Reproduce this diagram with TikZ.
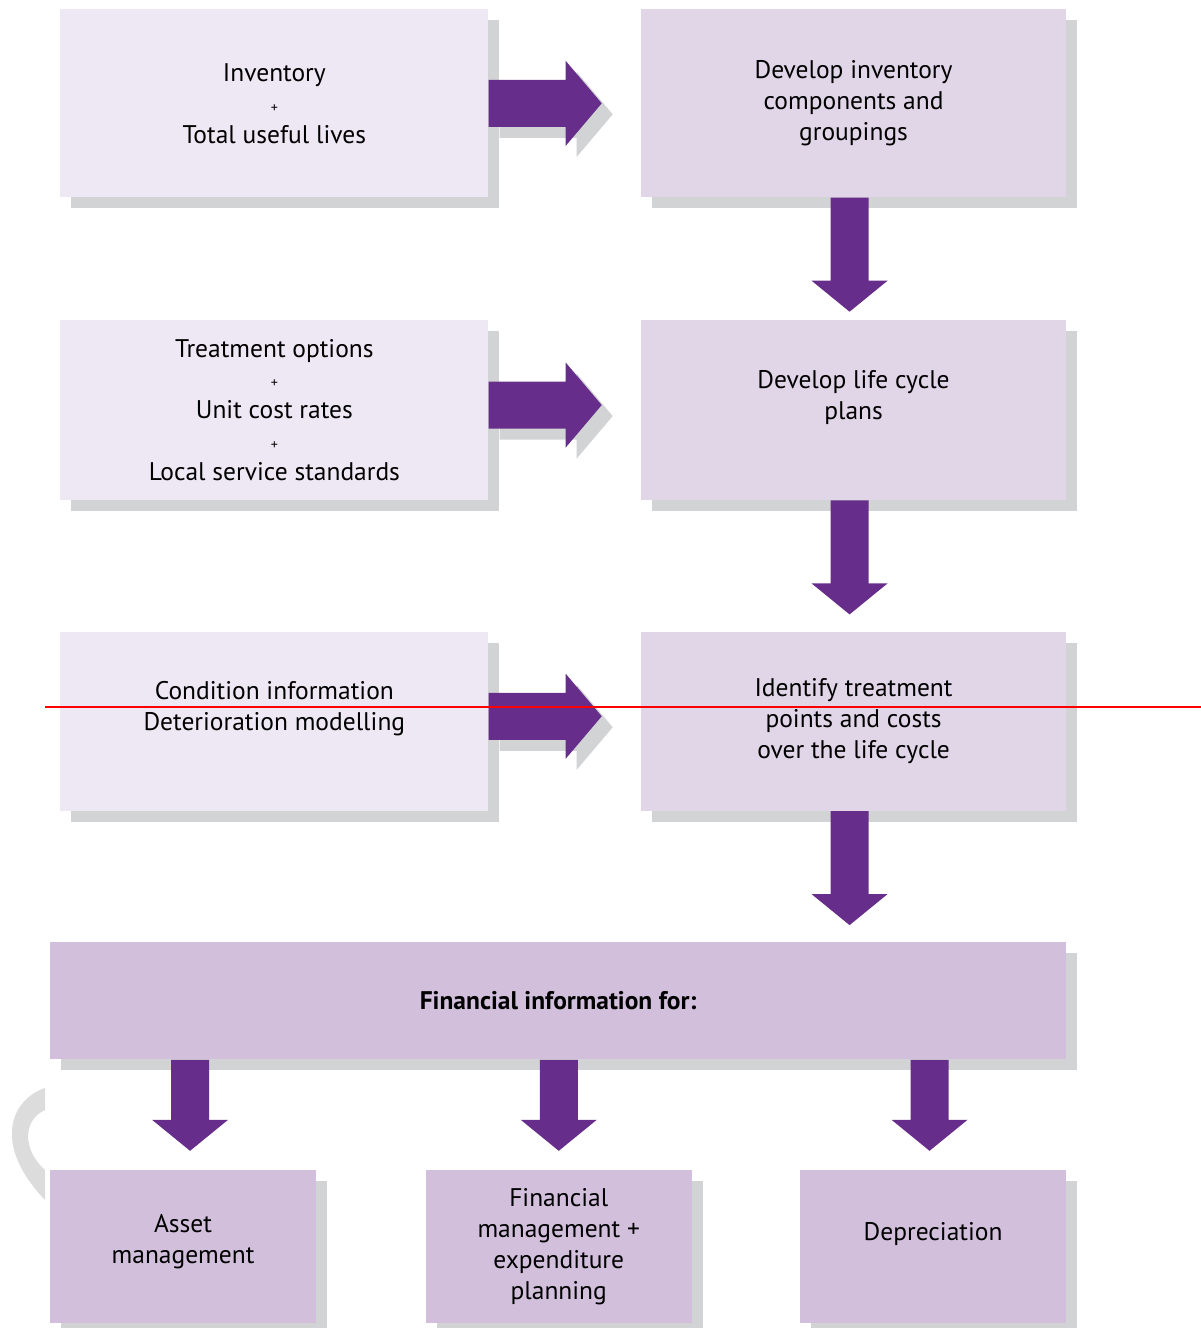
\documentclass[tikz,border=0pt]{standalone}
\usepackage{fontspec}
\setmainfont{PT Sans}
\usepackage{tikz}
\usetikzlibrary{shapes,arrows,positioning,calc,shadows}

\definecolor{inputfill}{HTML}{EEE8F4}
\definecolor{stepfill}{HTML}{E1D5E8}
\definecolor{finfill}{HTML}{D1BFDC}
\definecolor{arrowpurple}{HTML}{662D8A}
\definecolor{shadowgrey}{HTML}{D2D3D5}
\definecolor{swooshgrey}{HTML}{DCDCDC}

\newcommand{\plusline}{{\fontsize{8}{17.6}\selectfont +}}

\begin{document}
\begin{tikzpicture}[
    font=\fontsize{14.5}{17.6}\selectfont,
    greyshadow/.style={drop shadow={shadow xshift=0.22cm, shadow yshift=-0.22cm, fill=shadowgrey, opacity=1}},
    inbox/.style={rectangle, fill=inputfill, greyshadow, align=center, minimum width=8.56cm, inner sep=0pt},
    stepbox/.style={rectangle, fill=stepfill, greyshadow, align=center, minimum width=8.5cm, inner sep=0pt},
    finbox/.style={rectangle, fill=finfill, greyshadow, align=center, minimum width=20.32cm, minimum height=2.34cm, inner sep=0pt},
    outbox/.style={rectangle, fill=finfill, greyshadow, align=center, minimum width=5.32cm, minimum height=3.06cm, inner sep=0pt},
    rarrow/.style={fill=arrowpurple, greyshadow},
    darrow/.style={fill=arrowpurple}
]
\useasboundingbox (0,0) rectangle (24.02,-26.56);

% grey swoosh at the left edge
\fill[swooshgrey] (0.9,-21.76) .. controls (0.2,-22.0) and (-0.15,-22.9) .. (0.9,-24.0)
    -- (0.9,-23.4) .. controls (0.45,-23.0) and (0.45,-22.4) .. (0.9,-22.2) -- cycle;

% Inputs
\node[inbox, minimum height=3.76cm, anchor=north west] (inv) at (1.2,-0.18) {Inventory\\\plusline\\Total useful lives};
\node[inbox, minimum height=3.6cm, below=2.44cm of inv] (treat) {Treatment options\\\plusline\\Unit cost rates\\\plusline\\Local service standards};
\node[inbox, minimum height=3.58cm, below=2.62cm of treat] (cond) {Condition information\\Deterioration modelling\\\phantom{x}};

% Steps
\node[stepbox, minimum height=3.76cm, right=3.04cm of inv] (groups) {Develop inventory\\components and\\groupings};
\node[stepbox, minimum height=3.6cm, below=2.44cm of groups] (lcp) {Develop life cycle\\plans\\\phantom{x}};
\node[stepbox, minimum height=3.58cm, below=2.62cm of lcp] (points) {Identify treatment\\points and costs\\over the life cycle};

% Financial information
\node[finbox, anchor=north east] (fin) at ([yshift=-2.62cm]points.south east) {\textbf{Financial information for:}};

% Outputs
\node[outbox, anchor=north west] (asset) at ([yshift=-2.2cm]fin.south west) {Asset\\management\\[-0.31cm]\phantom{x}};
\node[outbox, right=2.18cm of asset] (finman) {Financial\\management +\\expenditure\\planning};
\node[outbox, anchor=north east] (dep) at ([yshift=-2.2cm]fin.south east) {Depreciation\\\phantom{x}};

% Arrows to the right
\foreach \src/\dy in {inv/0, treat/0.1, cond/0.1}
  \fill[rarrow] ([yshift=\dy cm]\src.east) ++(0,0.47) -- ++(1.54,0) -- ++(0,0.38) -- ++(0.72,-0.85)
      -- ++(-0.72,-0.85) -- ++(0,0.38) -- ++(-1.54,0) -- cycle;

% Arrows down between the steps
\foreach \src in {groups, lcp, points}
  \fill[darrow] ([xshift=-0.08cm]\src.south) ++(-0.38,0) -- ++(0,-1.66) -- ++(-0.38,0) -- ++(0.76,-0.62)
      -- ++(0.76,0.62) -- ++(-0.38,0) -- ++(0,1.66) -- cycle;

% Arrows down to the outputs
\foreach \dst/\dx in {asset/0.14, finman/0, dep/-0.07}
  \fill[darrow] ([xshift=\dx cm]\dst.north |- fin.south) ++(-0.38,0) -- ++(0,-1.2) -- ++(-0.38,0) -- ++(0.76,-0.62)
      -- ++(0.76,0.62) -- ++(-0.38,0) -- ++(0,1.2) -- cycle;

% red line
\coordinate (redstart) at (0.9,-14.14);
\coordinate (redend) at (24.02,-14.14);
\draw[red, line width=1.1pt] (redstart) -- (redend);

\end{tikzpicture}
\end{document}
